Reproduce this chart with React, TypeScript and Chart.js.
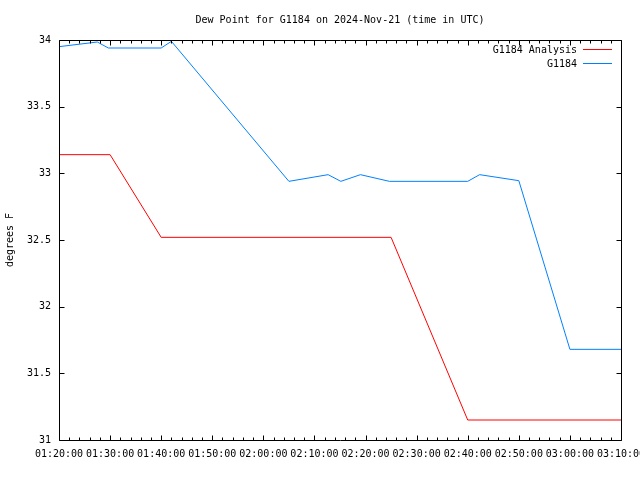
import React, { useEffect, useRef } from "react";
import { Chart, registerables } from "chart.js";

Chart.register(...registerables);

const titleText = "Dew Point for G1184 on 2024-Nov-21 (time in UTC)";
const yAxisTitle = "degrees F";
const seriesNames = ["G1184 Analysis", "G1184"];
const seriesColors = ["#ff0000", "#0080ff"];

const xTickLabels = [
  "01:20:00", "01:30:00", "01:40:00", "01:50:00", "02:00:00", "02:10:00",
  "02:20:00", "02:30:00", "02:40:00", "02:50:00", "03:00:00", "03:10:00",
];
const yTickValues = [31, 31.5, 32, 32.5, 33, 33.5, 34];

const analysisTimes = ["01:20:00", "01:30:00", "01:40:00", "02:25:00", "02:40:00", "03:10:00"];
const analysisValues = [33.14, 33.14, 32.52, 32.52, 31.15, 31.15];

const obsTimes = [
  "01:20:00", "01:27:30", "01:29:40", "01:40:00", "01:42:00", "02:05:00",
  "02:12:40", "02:15:10", "02:19:00", "02:24:40", "02:40:00", "02:42:20",
  "02:50:00", "03:00:00", "03:10:00",
];
const obsValues = [
  33.95, 33.985, 33.94, 33.94, 33.99, 32.94,
  32.99, 32.94, 32.99, 32.94, 32.94, 32.99,
  32.945, 31.68, 31.68,
];

const toMin = (t: string) => {
  const [h, m, s] = t.split(":").map(Number);
  return h * 60 + m + (s || 0) / 60;
};

const FONT = '"DejaVu Sans Mono", monospace';

const framePlugin = {
  id: "gnuFrame",
  afterDraw(chart: any) {
    const { ctx, chartArea } = chart;
    const { left, right, top, bottom } = chartArea;
    const xs = chart.scales.x;
    const ys = chart.scales.y;
    ctx.save();
    ctx.strokeStyle = "#000";
    ctx.lineWidth = 1;
    const L = Math.round(left) + 0.5;
    const R = Math.round(right) + 0.5;
    const T = Math.round(top) + 0.5;
    const B = Math.round(bottom) + 0.5;
    ctx.beginPath();
    ctx.rect(L, T, R - L, B - T);
    ctx.stroke();
    // x ticks (major 10 min, minor 2 min), inward, bottom and top
    ctx.beginPath();
    const xmin = xs.min, xmax = xs.max;
    for (let m = xmin; m <= xmax + 1e-6; m += 2) {
      const px = Math.round(xs.getPixelForValue(m)) + 0.5;
      const major = Math.abs((m - xmin) % 10) < 1e-6;
      const len = major ? 5 : 3;
      ctx.moveTo(px, B);
      ctx.lineTo(px, B - len);
      ctx.moveTo(px, T);
      ctx.lineTo(px, T + len);
    }
    // y ticks inward left and right
    for (const v of yTickValues) {
      const py = Math.round(ys.getPixelForValue(v)) + 0.5;
      ctx.moveTo(L, py);
      ctx.lineTo(L + 5, py);
      ctx.moveTo(R, py);
      ctx.lineTo(R - 5, py);
    }
    ctx.stroke();
    // legend
    ctx.font = "10px " + FONT;
    ctx.textAlign = "right";
    ctx.textBaseline = "middle";
    seriesNames.forEach((name, i) => {
      const y = 50 + i * 14;
      ctx.fillStyle = "#000";
      ctx.fillText(name, 577, y);
      ctx.strokeStyle = seriesColors[i];
      ctx.beginPath();
      ctx.moveTo(583, y - 0.5);
      ctx.lineTo(612, y - 0.5);
      ctx.stroke();
    });
    ctx.restore();
  },
};

export default function App() {
  const ref = useRef<HTMLCanvasElement | null>(null);
  useEffect(() => {
    if (!ref.current) return;
    const chart = new Chart(ref.current, {
      type: "line",
      data: {
        datasets: [
          {
            label: seriesNames[0],
            data: analysisTimes.map((t, i) => ({ x: toMin(t), y: analysisValues[i] })),
            borderColor: seriesColors[0],
            backgroundColor: seriesColors[0],
            borderWidth: 1,
            pointRadius: 0,
            tension: 0,
            fill: false,
          },
          {
            label: seriesNames[1],
            data: obsTimes.map((t, i) => ({ x: toMin(t), y: obsValues[i] })),
            borderColor: seriesColors[1],
            backgroundColor: seriesColors[1],
            borderWidth: 1,
            pointRadius: 0,
            tension: 0,
            fill: false,
          },
        ],
      },
      options: {
        responsive: false,
        animation: false,
        devicePixelRatio: 1,
        layout: { padding: { left: 0, right: 19, top: 0, bottom: 0 } },
        plugins: {
          legend: { display: false },
          tooltip: { enabled: false },
          title: {
            display: true,
            text: titleText,
            fullSize: false,
            color: "#000",
            font: { family: FONT, size: 10, weight: "normal", lineHeight: 1.2 },
            padding: { top: 14, bottom: 14 },
          },
        },
        scales: {
          x: {
            type: "linear",
            min: toMin(xTickLabels[0]),
            max: toMin(xTickLabels[xTickLabels.length - 1]),
            grid: { display: false, drawTicks: false },
            border: { display: false },
            ticks: {
              stepSize: 10,
              autoSkip: false,
              maxRotation: 0,
              minRotation: 0,
              padding: 8,
              color: "#000",
              font: { family: FONT, size: 10 },
              callback: (_v: any, i: number) => xTickLabels[i],
            },
            afterFit: (s: any) => {
              s.height = 40;
              s.paddingLeft = 0;
              s.paddingRight = 0;
            },
          },
          y: {
            type: "linear",
            min: yTickValues[0],
            max: yTickValues[yTickValues.length - 1],
            grid: { display: false, drawTicks: false },
            border: { display: false },
            ticks: {
              stepSize: 0.5,
              padding: 8,
              color: "#000",
              font: { family: FONT, size: 10 },
              callback: (v: any) => String(v),
            },
            title: {
              display: true,
              text: yAxisTitle,
              color: "#000",
              font: { family: FONT, size: 10 },
              padding: { top: 4, bottom: 0 },
            },
            afterFit: (s: any) => {
              s.width = 59;
              s.paddingTop = 0;
              s.paddingBottom = 0;
            },
          },
        },
      },
      plugins: [framePlugin],
    } as any);
    return () => chart.destroy();
  }, []);
  return (
    <div style={{ position: "fixed", left: 0, top: 0, width: 640, height: 480, background: "#fff" }}>
      <canvas ref={ref} width={640} height={480} style={{ width: 640, height: 480, display: "block" }} />
    </div>
  );
}
